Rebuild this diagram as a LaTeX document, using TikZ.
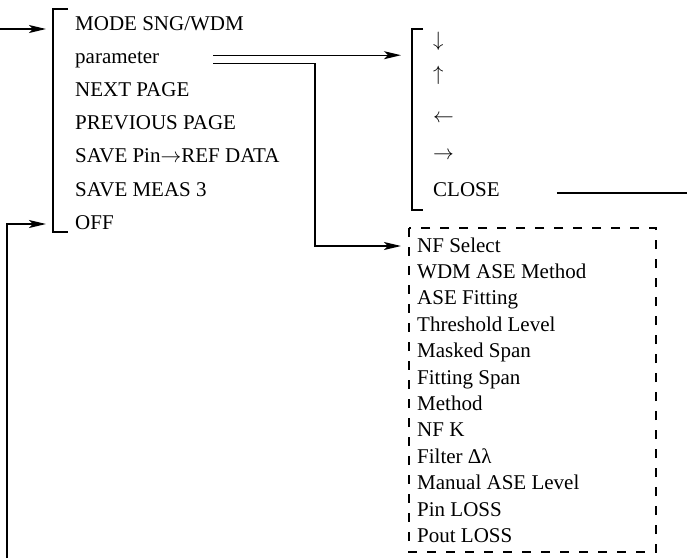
\documentclass[tikz,border=0pt]{standalone}
\usepackage{fontspec}
\setmainfont{Liberation Serif}
\usetikzlibrary{arrows.meta,calc}

\begin{document}
\begin{tikzpicture}[x=1pt,y=-1pt]
    \tikzset{menuitem/.style={font=\fontsize{21}{24}\selectfont,inner sep=0pt,anchor=base west},
      wire/.style={line width=1.3pt},
      link/.style={wire,-{Stealth[length=17pt,width=8pt,inset=4pt]}}}
    \useasboundingbox (0,0) rectangle (687,558);
    % main menu
    \foreach \t [count=\i] in {MODE SNG/WDM,parameter,NEXT PAGE,PREVIOUS PAGE,SAVE Pin$\rightarrow$REF DATA,SAVE MEAS 3,OFF}
      \node[menuitem] (m\i) at (75,{30+33.2*(\i-1)}) {\t};
    \draw[wire] (68,9) -- (53,9) -- (53,232) -- (68,232);
    \coordinate (feed) at (0,29);
    \coordinate (back) at (7,558);
    \coordinate (mtop) at (46,29);
    \coordinate (moff) at (46,224);
    \draw[link] (feed) -- (mtop);
    \draw[link] (back) |- (moff);
    % cursor sub menu
    \foreach \t/\y [count=\i] in {$\downarrow$/46,$\uparrow$/80,$\leftarrow$/122,$\rightarrow$/159,CLOSE/196}
      \node[menuitem] (a\i) at (433,\y) {\t};
    \draw[wire] (423,29) -- (412,29) -- (412,210) -- (423,210);
    \coordinate (ain) at (401,54);
    \coordinate (cls) at ($(a5.base east)+(57,-3)$);
    \coordinate (clend) at (687,193);
    \draw[wire] (cls) -- (clend);
    % parameter list
    \foreach \t [count=\i] in {NF Select,WDM ASE Method,ASE Fitting,Threshold Level,Masked Span,Fitting Span,Method,NF K,Filter Δλ,Manual ASE Level,Pin LOSS,Pout LOSS}
      \node[menuitem] (p\i) at (417,{252+26.4*(\i-1)}) {\t};
    \draw[wire,dash pattern=on 9pt off 10pt] (409,228) rectangle (656,552);
    \coordinate (pu) at ($(m2.base east)+(54,-8)$);
    \coordinate (pl) at ($(m2.base east)+(54,0)$);
    \coordinate (pturn) at (315,246);
    \coordinate (nin) at (401,246);
    \draw[link] (pu) -- (pu -| ain);
    \draw[link] (pl) -| (pturn) -- (nin);
\end{tikzpicture}
\end{document}
